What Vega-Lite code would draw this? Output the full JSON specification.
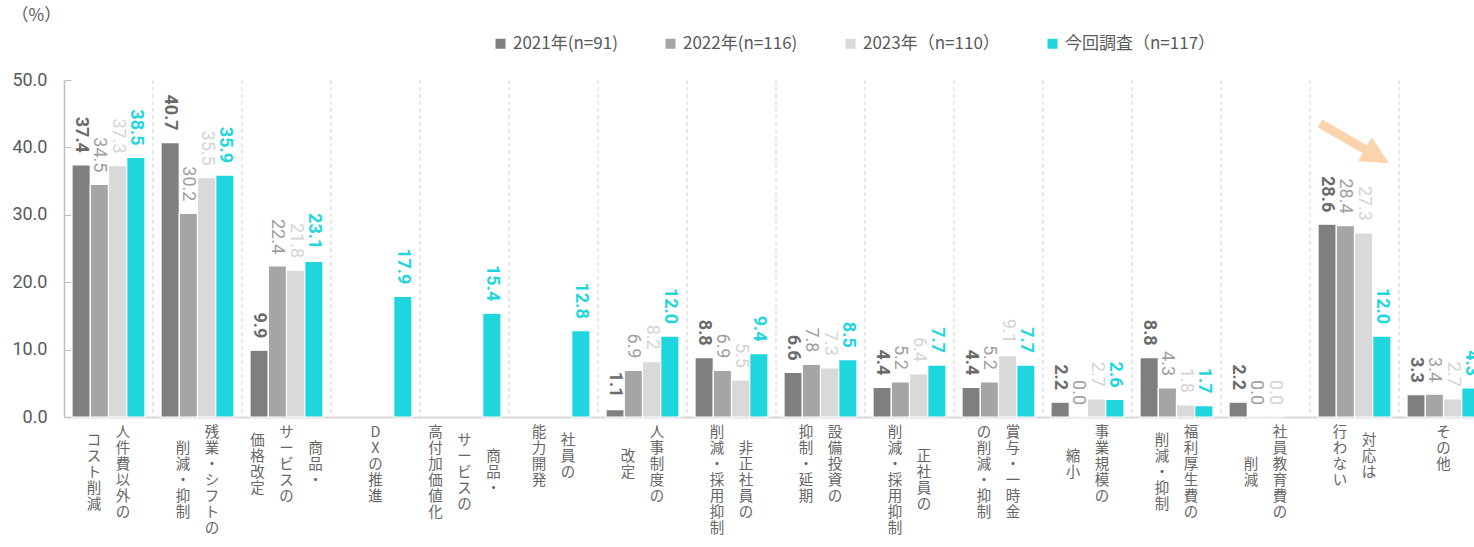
{
  "$schema": "https://vega.github.io/schema/vega-lite/v6.json",
  "width": 1410,
  "height": 337,
  "autosize": {"type": "none"},
  "padding": {"left": 64, "top": 80, "right": 0, "bottom": 130},
  "background": "white",
  "config": {"view": {"stroke": null}, "font": "Noto Sans CJK JP"},
  "datasets": {
    "main": [
      {"item": "人件費以外のコスト削減", "series": "2021年(n=91)", "value": 37.4},
      {"item": "人件費以外のコスト削減", "series": "2022年(n=116)", "value": 34.5},
      {"item": "人件費以外のコスト削減", "series": "2023年（n=110）", "value": 37.3},
      {"item": "人件費以外のコスト削減", "series": "今回調査（n=117）", "value": 38.5},
      {"item": "残業・シフトの削減・抑制", "series": "2021年(n=91)", "value": 40.7},
      {"item": "残業・シフトの削減・抑制", "series": "2022年(n=116)", "value": 30.2},
      {"item": "残業・シフトの削減・抑制", "series": "2023年（n=110）", "value": 35.5},
      {"item": "残業・シフトの削減・抑制", "series": "今回調査（n=117）", "value": 35.9},
      {"item": "商品・サービスの価格改定", "series": "2021年(n=91)", "value": 9.9},
      {"item": "商品・サービスの価格改定", "series": "2022年(n=116)", "value": 22.4},
      {"item": "商品・サービスの価格改定", "series": "2023年（n=110）", "value": 21.8},
      {"item": "商品・サービスの価格改定", "series": "今回調査（n=117）", "value": 23.1},
      {"item": "DXの推進", "series": "今回調査（n=117）", "value": 17.9},
      {"item": "商品・サービスの高付加価値化", "series": "今回調査（n=117）", "value": 15.4},
      {"item": "社員の能力開発", "series": "今回調査（n=117）", "value": 12.8},
      {"item": "人事制度の改定", "series": "2021年(n=91)", "value": 1.1},
      {"item": "人事制度の改定", "series": "2022年(n=116)", "value": 6.9},
      {"item": "人事制度の改定", "series": "2023年（n=110）", "value": 8.2},
      {"item": "人事制度の改定", "series": "今回調査（n=117）", "value": 12.0},
      {"item": "非正社員の削減・採用抑制", "series": "2021年(n=91)", "value": 8.8},
      {"item": "非正社員の削減・採用抑制", "series": "2022年(n=116)", "value": 6.9},
      {"item": "非正社員の削減・採用抑制", "series": "2023年（n=110）", "value": 5.5},
      {"item": "非正社員の削減・採用抑制", "series": "今回調査（n=117）", "value": 9.4},
      {"item": "設備投資の抑制・延期", "series": "2021年(n=91)", "value": 6.6},
      {"item": "設備投資の抑制・延期", "series": "2022年(n=116)", "value": 7.8},
      {"item": "設備投資の抑制・延期", "series": "2023年（n=110）", "value": 7.3},
      {"item": "設備投資の抑制・延期", "series": "今回調査（n=117）", "value": 8.5},
      {"item": "正社員の削減・採用抑制", "series": "2021年(n=91)", "value": 4.4},
      {"item": "正社員の削減・採用抑制", "series": "2022年(n=116)", "value": 5.2},
      {"item": "正社員の削減・採用抑制", "series": "2023年（n=110）", "value": 6.4},
      {"item": "正社員の削減・採用抑制", "series": "今回調査（n=117）", "value": 7.7},
      {"item": "賞与・一時金の削減・抑制", "series": "2021年(n=91)", "value": 4.4},
      {"item": "賞与・一時金の削減・抑制", "series": "2022年(n=116)", "value": 5.2},
      {"item": "賞与・一時金の削減・抑制", "series": "2023年（n=110）", "value": 9.1},
      {"item": "賞与・一時金の削減・抑制", "series": "今回調査（n=117）", "value": 7.7},
      {"item": "事業規模の縮小", "series": "2021年(n=91)", "value": 2.2},
      {"item": "事業規模の縮小", "series": "2022年(n=116)", "value": 0.0},
      {"item": "事業規模の縮小", "series": "2023年（n=110）", "value": 2.7},
      {"item": "事業規模の縮小", "series": "今回調査（n=117）", "value": 2.6},
      {"item": "福利厚生費の削減・抑制", "series": "2021年(n=91)", "value": 8.8},
      {"item": "福利厚生費の削減・抑制", "series": "2022年(n=116)", "value": 4.3},
      {"item": "福利厚生費の削減・抑制", "series": "2023年（n=110）", "value": 1.8},
      {"item": "福利厚生費の削減・抑制", "series": "今回調査（n=117）", "value": 1.7},
      {"item": "社員教育費の削減", "series": "2021年(n=91)", "value": 2.2},
      {"item": "社員教育費の削減", "series": "2022年(n=116)", "value": 0.0},
      {"item": "社員教育費の削減", "series": "2023年（n=110）", "value": 0.0},
      {"item": "対応は行わない", "series": "2021年(n=91)", "value": 28.6},
      {"item": "対応は行わない", "series": "2022年(n=116)", "value": 28.4},
      {"item": "対応は行わない", "series": "2023年（n=110）", "value": 27.3},
      {"item": "対応は行わない", "series": "今回調査（n=117）", "value": 12.0},
      {"item": "その他", "series": "2021年(n=91)", "value": 3.3},
      {"item": "その他", "series": "2022年(n=116)", "value": 3.4},
      {"item": "その他", "series": "2023年（n=110）", "value": 2.7},
      {"item": "その他", "series": "今回調査（n=117）", "value": 4.3}
    ],
    "seps": [
      {"item": "残業・シフトの削減・抑制"},
      {"item": "商品・サービスの価格改定"},
      {"item": "DXの推進"},
      {"item": "商品・サービスの高付加価値化"},
      {"item": "社員の能力開発"},
      {"item": "人事制度の改定"},
      {"item": "非正社員の削減・採用抑制"},
      {"item": "設備投資の抑制・延期"},
      {"item": "正社員の削減・採用抑制"},
      {"item": "賞与・一時金の削減・抑制"},
      {"item": "事業規模の縮小"},
      {"item": "福利厚生費の削減・抑制"},
      {"item": "社員教育費の削減"},
      {"item": "対応は行わない"},
      {"item": "その他"}
    ]
  },
  "layer": [
    {
      "data": {"name": "seps"},
      "mark": {"type": "rule", "color": "#d0d0d0", "strokeDash": [4, 3], "strokeWidth": 1},
      "encoding": {
        "x": {"field": "item", "type": "nominal", "bandPosition": 0}
      }
    },
    {
      "data": {"name": "main"},
      "mark": {"type": "bar", "stroke": "white", "strokeWidth": 1.2},
      "encoding": {
        "x": {
          "field": "item",
          "type": "nominal",
          "scale": {
            "domain": ["人件費以外のコスト削減", "残業・シフトの削減・抑制", "商品・サービスの価格改定", "DXの推進", "商品・サービスの高付加価値化", "社員の能力開発", "人事制度の改定", "非正社員の削減・採用抑制", "設備投資の抑制・延期", "正社員の削減・採用抑制", "賞与・一時金の削減・抑制", "事業規模の縮小", "福利厚生費の削減・抑制", "社員教育費の削減", "対応は行わない", "その他"],
            "paddingInner": 0,
            "paddingOuter": 0,
            "rangeMax": 1424
          },
          "axis": {
            "title": null,
            "labelAngle": 0,
            "labelAlign": "center",
            "labelExpr": "split(replace('\u200b' + {'人件費以外のコスト削減':'　　人|コ　　|　　件|ス　　|　　費|ト　　|　　以|削　　|　　外|減　　|　　の','残業・シフトの削減・抑制':'　　残|　　　|削　業|　　　|減　・|　　　|・　シ|　　　|抑　フ|　　　|制　ト|　　　|　　の','商品・サービスの価格改定':'　　サ　　|価　　　　|　　ー　商|格　　　　|　　ビ　品|改　　　　|　　ス　・|定　　　　|　　の　　','DXの推進':'D|　|X|　|の|　|推|　|進','商品・サービスの高付加価値化':'高　　　　|　　サ　　|付　　　　|　　ー　商|加　　　　|　　ビ　品|価　　　　|　　ス　・|値　　　　|　　の　　|化　　　　','社員の能力開発':'能　　|　　社|力　　|　　員|開　　|　　の|発　　','人事制度の改定':'　　人|　　　|　　事|改　　|　　制|定　　|　　度|　　　|　　の','非正社員の削減・採用抑制':'削　　|　　　|減　非|　　　|・　正|　　　|採　社|　　　|用　員|　　　|抑　の|　　　|制　　','設備投資の抑制・延期':'抑　設|　　　|制　備|　　　|・　投|　　　|延　資|　　　|期　の','正社員の削減・採用抑制':'削　　|　　　|減　　|　　正|・　　|　　社|採　　|　　員|用　　|　　の|抑　　|　　　|制　　','賞与・一時金の削減・抑制':'の　賞|　　　|削　与|　　　|減　・|　　　|・　一|　　　|抑　時|　　　|制　金','事業規模の縮小':'　　事|　　　|　　業|縮　　|　　規|小　　|　　模|　　　|　　の','福利厚生費の削減・抑制':'　　福|削　　|　　利|減　　|　　厚|・　　|　　生|抑　　|　　費|制　　|　　の','社員教育費の削減':'　　社|　　　|　　員|　　　|削　教|　　　|減　育|　　　|　　費|　　　|　　の','対応は行わない':'行　　|　　対|わ　　|　　応|な　　|　　は|い　　','その他':'そ|　|の|　|他'}[datum.label] + '\u200b', regexp('[|]', 'g'), '\u200b|\u200b'), '|')",
            "labelLineHeight": 8,
            "labelFont": "Noto Sans CJK JP",
            "labelFontSize": 14.5,
            "labelColor": "#666666",
            "labelBaseline": "top",
            "labelPadding": 8,
            "labelLimit": 0,
            "labelOverlap": false,
            "ticks": false,
            "domainColor": "#d9d9d9",
            "domainWidth": 2,
            "grid": false
          }
        },
        "xOffset": {
          "field": "series",
          "type": "nominal",
          "scale": {"domain": ["2021年(n=91)", "2022年(n=116)", "2023年（n=110）", "今回調査（n=117）"], "paddingInner": 0, "paddingOuter": 0.44}
        },
        "y": {
          "field": "value",
          "type": "quantitative",
          "scale": {"domain": [0, 50], "nice": false},
          "axis": {
            "title": "（%）",
            "titleAngle": 0,
            "titleAlign": "left",
            "titleBaseline": "top",
            "titleX": -53,
            "titleY": -73,
            "titleFont": "Noto Sans CJK JP",
            "titleFontSize": 17,
            "titleFontWeight": "normal",
            "titleColor": "#595959",
            "values": [0, 10, 20, 30, 40, 50],
            "format": ".1f",
            "labelFont": "Roboto",
            "labelFontSize": 18,
            "labelColor": "#595959",
            "labelPadding": 24,
            "tickSize": -7,
            "tickColor": "#bfbfbf",
            "domainColor": "#bfbfbf",
            "domainWidth": 1.5,
            "grid": false
          }
        },
        "color": {
          "field": "series",
          "type": "nominal",
          "scale": {"domain": ["2021年(n=91)", "2022年(n=116)", "2023年（n=110）", "今回調査（n=117）"], "range": ["#7f7f7f", "#a5a5a5", "#d9d9d9", "#1fd6df"]},
          "legend": {
            "orient": "none",
            "direction": "horizontal",
            "legendX": 428,
            "legendY": -45,
            "title": null,
            "symbolType": "square",
            "symbolSize": 100,
            "symbolStrokeWidth": 0,
            "labelFont": "Noto Sans CJK JP",
            "labelFontSize": 17,
            "labelColor": "#595959",
            "labelOffset": 4,
            "labelLimit": 0,
            "columnPadding": 44
          }
        }
      }
    },
    {
      "data": {"name": "main"},
      "transform": [{"filter": "datum.series === '2021年(n=91)' || datum.series === '今回調査（n=117）'"}],
      "mark": {"type": "text", "angle": 90, "align": "right", "baseline": "middle", "dx": -12, "font": "Roboto", "fontSize": 18, "fontWeight": "bold"},
      "encoding": {
        "x": {"field": "item", "type": "nominal"},
        "xOffset": {"field": "series", "type": "nominal"},
        "y": {"field": "value", "type": "quantitative"},
        "text": {"field": "value", "type": "quantitative", "format": ".1f"},
        "color": {"condition": {"test": "datum.series === '2021年(n=91)'", "value": "#6b6b6b"}, "value": "#1fd6df"}
      }
    },
    {
      "data": {"name": "main"},
      "transform": [{"filter": "datum.series === '2022年(n=116)' || datum.series === '2023年（n=110）'"}],
      "mark": {"type": "text", "angle": 90, "align": "right", "baseline": "middle", "dx": -12, "font": "Roboto", "fontSize": 18, "fontWeight": "normal"},
      "encoding": {
        "x": {"field": "item", "type": "nominal"},
        "xOffset": {"field": "series", "type": "nominal"},
        "y": {"field": "value", "type": "quantitative"},
        "text": {"field": "value", "type": "quantitative", "format": ".1f"},
        "color": {"condition": {"test": "datum.series === '2022年(n=116)'", "value": "#a0a0a0"}, "value": "#d4d4d4"}
      }
    },
    {
      "data": {"values": [{}]},
      "mark": {"type": "point", "shape": "M-1,-0.11L0.3,-0.11L0.3,-0.34L1,0L0.3,0.34L0.3,0.11L-1,0.11Z", "size": 6400, "angle": 30, "filled": true, "color": "#fbd3ad", "opacity": 1, "strokeWidth": 0},
      "encoding": {
        "x": {"datum": "対応は行わない", "type": "nominal"},
        "y": {"datum": 40.6, "type": "quantitative"}
      }
    }
  ]
}
